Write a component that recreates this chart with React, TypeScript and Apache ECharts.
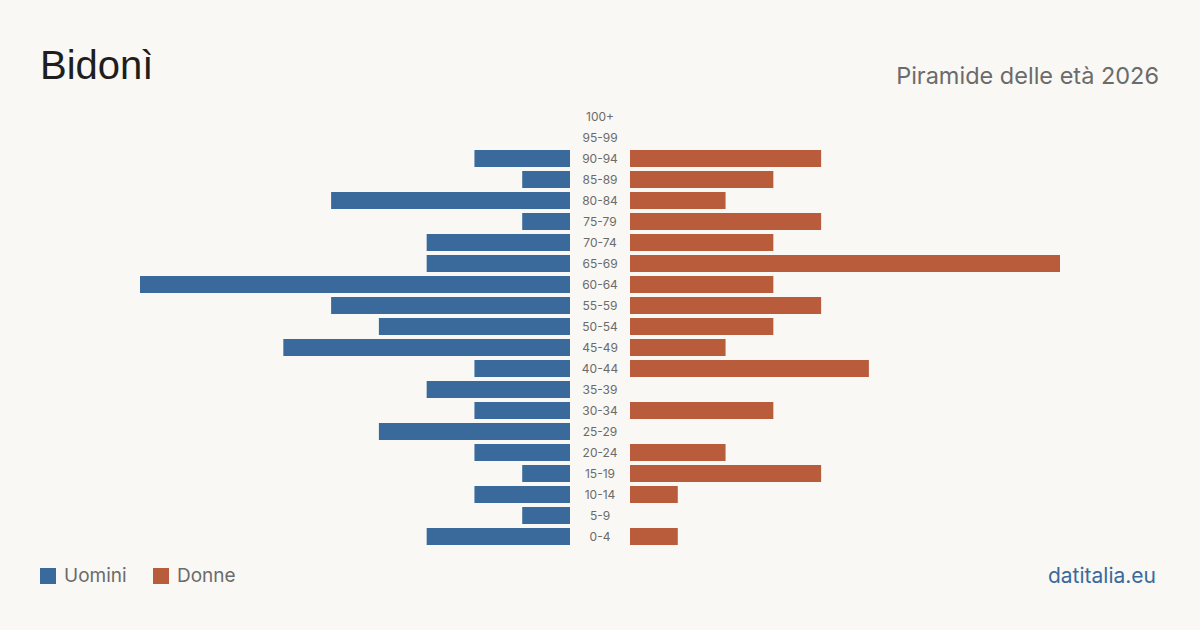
import React, { useEffect, useRef } from "react";
import * as echarts from "echarts";

const ageGroups = [
  "0-4", "5-9", "10-14", "15-19", "20-24", "25-29", "30-34", "35-39", "40-44", "45-49",
  "50-54", "55-59", "60-64", "65-69", "70-74", "75-79", "80-84", "85-89", "90-94", "95-99", "100+",
];
const men = [3, 1, 2, 1, 2, 4, 2, 3, 2, 6, 4, 5, 9, 3, 3, 1, 5, 1, 2, 0, 0];
const women = [1, 0, 1, 4, 2, 0, 3, 0, 5, 2, 3, 4, 3, 9, 3, 4, 2, 3, 4, 0, 0];

const MEN_COLOR = "#3a6a9b";
const WOMEN_COLOR = "#b85c3b";
const BG = "#f9f8f4";
const FONT = "Inter, 'Liberation Sans', sans-serif";

export default function App() {
  const ref = useRef<HTMLDivElement>(null);

  useEffect(() => {
    if (!ref.current) return;
    const chart = echarts.init(ref.current, undefined, { renderer: "svg" });
    const maxVal = Math.max(...men, ...women);
    chart.setOption({
      animation: false,
      backgroundColor: BG,
      grid: [
        { left: 140, width: 430, top: 106, height: 441 },
        { left: 630, width: 430, top: 106, height: 441 },
      ],
      xAxis: [
        { gridIndex: 0, type: "value", inverse: true, min: 0, max: maxVal, show: false },
        { gridIndex: 1, type: "value", min: 0, max: maxVal, show: false },
      ],
      yAxis: [
        {
          gridIndex: 0, type: "category", data: ageGroups,
          axisLine: { show: false }, axisTick: { show: false }, axisLabel: { show: false },
        },
        {
          gridIndex: 1, type: "category", data: ageGroups,
          axisLine: { show: false }, axisTick: { show: false },
          axisLabel: {
            show: true, margin: 30, align: "center", color: "#6b6b6b",
            fontSize: 12, fontFamily: FONT,
          },
        },
      ],
      series: [
        {
          name: "Uomini", type: "bar", xAxisIndex: 0, yAxisIndex: 0, data: men,
          barWidth: 17, itemStyle: { color: MEN_COLOR },
        },
        {
          name: "Donne", type: "bar", xAxisIndex: 1, yAxisIndex: 1, data: women,
          barWidth: 17, itemStyle: { color: WOMEN_COLOR },
        },
      ],
      graphic: [
        {
          type: "text", left: 40, top: 45,
          style: { text: "Bidonì", fontSize: 40, fill: "#1e1e1e", fontFamily: "'Liberation Sans', Arial, sans-serif" },
        },
        {
          type: "text", right: 41, top: 63,
          style: { text: "Piramide delle età 2026", fontSize: 23.5, fill: "#6b6b6b", fontFamily: FONT },
        },
        { type: "rect", shape: { x: 40, y: 568, width: 16, height: 16 }, style: { fill: MEN_COLOR } },
        {
          type: "text", left: 64, top: 566,
          style: { text: "Uomini", fontSize: 19, fill: "#6b6b6b", fontFamily: FONT },
        },
        { type: "rect", shape: { x: 153, y: 568, width: 16, height: 16 }, style: { fill: WOMEN_COLOR } },
        {
          type: "text", left: 177, top: 566,
          style: { text: "Donne", fontSize: 19, fill: "#6b6b6b", fontFamily: FONT },
        },
        {
          type: "text", right: 44, top: 565,
          style: { text: "datitalia.eu", fontSize: 21, fill: MEN_COLOR, fontFamily: FONT },
        },
      ],
    });
    return () => chart.dispose();
  }, []);

  return (
    <div style={{ position: "fixed", inset: 0, background: BG }}>
      <div ref={ref} style={{ width: 1200, height: 630 }} />
    </div>
  );
}
